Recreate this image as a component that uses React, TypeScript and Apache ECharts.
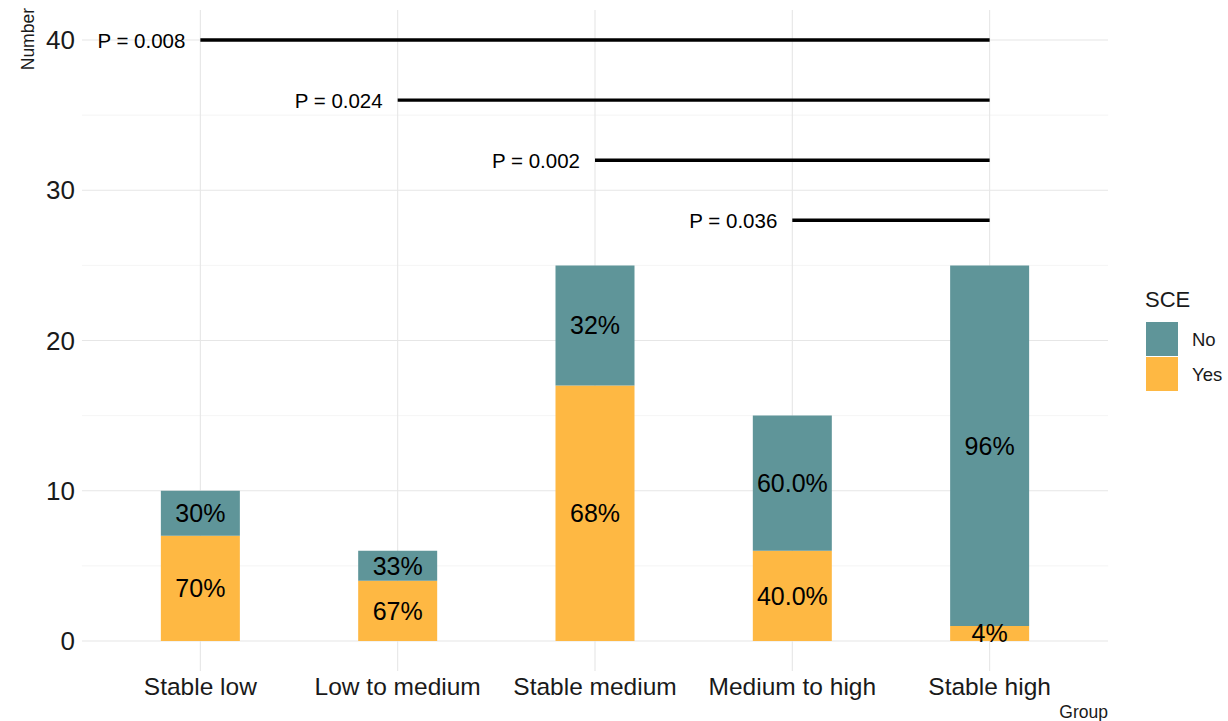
import React, { useEffect, useRef } from "react";
import * as echarts from "echarts";

const categories = ["Stable low", "Low to medium", "Stable medium", "Medium to high", "Stable high"];
const yesValues = [7, 4, 17, 6, 1];
const noValues = [3, 2, 8, 9, 24];
const yesLabels = ["70%", "67%", "68%", "40.0%", "4%"];
const noLabels = ["30%", "33%", "32%", "60.0%", "96%"];
const yTicks = [0, 10, 20, 30, 40];
const yMinorTicks = [5, 15, 25, 35];
const pStart = [0, 1, 2, 3];
const pEnd = 4;
const pHeights = [40, 36, 32, 28];
const pLabels = ["P = 0.008", "P = 0.024", "P = 0.002", "P = 0.036"];

const FONT = "Liberation Sans, Arial, sans-serif";
const YES_COLOR = "#FEB843";
const NO_COLOR = "#5F9599";
// panel expansion beyond the outer category bands, as a fraction of one band
const EXPAND = 0.1;

export default function App() {
  const ref = useRef<HTMLDivElement>(null);
  useEffect(() => {
    document.body.style.margin = "0";
    const chart = echarts.init(ref.current!, null, { renderer: "svg" });
    const hGridData = [
      ...yTicks.map((v) => [0, v, 1]),
      ...yMinorTicks.map((v) => [0, v, 0]),
    ];
    const vGridData = categories.map((_, i) => [i, 0]);
    const option: any = {
      animation: false,
      textStyle: { fontFamily: FONT },
      grid: { left: 101.7, right: 139.7, top: 10, bottom: 50 },
      title: {
        text: "SCE",
        left: 1145,
        top: 288,
        padding: 0,
        textStyle: { fontSize: 22, fontWeight: "normal", color: "#1a1a1a", fontFamily: FONT },
      },
      legend: {
        data: ["No", "Yes"],
        orient: "vertical",
        left: 1146,
        top: 322,
        padding: 0,
        icon: "rect",
        itemWidth: 32,
        itemHeight: 34,
        itemGap: 1,
        textStyle: { fontSize: 18.5, color: "#1a1a1a", fontFamily: FONT, padding: [0, 0, 0, 9] },
        selectedMode: false,
      },
      xAxis: {
        type: "category",
        data: categories,
        boundaryGap: true,
        axisLine: { show: false },
        axisTick: { show: false },
        splitLine: { show: false },
        axisLabel: {
          interval: 0,
          fontSize: 24.5,
          color: "#1a1a1a",
          margin: 3,
          fontFamily: FONT,
        },
      },
      yAxis: {
        type: "value",
        min: -2,
        max: 42,
        axisLine: { show: false },
        axisTick: { show: false },
        splitLine: { show: false },
        axisLabel: {
          customValues: yTicks,
          fontSize: 26,
          color: "#1a1a1a",
          margin: 26.7,
          fontFamily: FONT,
        },
      },
      graphic: [
        {
          type: "text",
          x: 28,
          y: 8,
          rotation: Math.PI / 2,
          style: {
            text: "Number",
            align: "right",
            verticalAlign: "middle",
            fontSize: 17.5,
            fill: "#1a1a1a",
            fontFamily: FONT,
          },
        },
        {
          type: "text",
          x: 1108,
          y: 712,
          style: {
            text: "Group",
            align: "right",
            verticalAlign: "middle",
            fontSize: 17.5,
            fill: "#1a1a1a",
            fontFamily: FONT,
          },
        },
      ],
      series: [
        {
          type: "custom",
          name: "hgrid",
          z: 0,
          silent: true,
          clip: false,
          encode: { x: 0, y: 1 },
          data: hGridData,
          renderItem: (params: any, api: any) => {
            const cs = params.coordSys;
            const band = api.size([1, 0])[0];
            const y = api.coord([0, api.value(1)])[1];
            const major = api.value(2) === 1;
            return {
              type: "line",
              shape: { x1: cs.x - EXPAND * band, y1: y, x2: cs.x + cs.width + EXPAND * band, y2: y },
              style: { stroke: major ? "#E6E6E6" : "#F1F1F1", lineWidth: major ? 1.1 : 0.7 },
            };
          },
        },
        {
          type: "custom",
          name: "vgrid",
          z: 0,
          silent: true,
          encode: { x: 0, y: 1 },
          data: vGridData,
          renderItem: (params: any, api: any) => {
            const cs = params.coordSys;
            const x = api.coord([api.value(0), 0])[0];
            return {
              type: "line",
              shape: { x1: x, y1: cs.y, x2: x, y2: cs.y + cs.height },
              style: { stroke: "#E6E6E6", lineWidth: 1.1 },
            };
          },
        },
        {
          type: "bar",
          name: "Yes",
          stack: "total",
          z: 3,
          barWidth: 79,
          itemStyle: { color: YES_COLOR },
          data: yesValues,
          label: {
            show: true,
            position: "inside",
            formatter: (p: any) => yesLabels[p.dataIndex],
            fontSize: 25,
            color: "#000",
            fontFamily: FONT,
          },
        },
        {
          type: "bar",
          name: "No",
          stack: "total",
          z: 3,
          barWidth: 79,
          itemStyle: { color: NO_COLOR },
          data: noValues,
          label: {
            show: true,
            position: "inside",
            formatter: (p: any) => noLabels[p.dataIndex],
            fontSize: 25,
            color: "#000",
            fontFamily: FONT,
          },
        },
        {
          type: "custom",
          name: "pvalues",
          z: 5,
          silent: true,
          clip: false,
          encode: { x: [0, 1], y: 2 },
          data: pStart.map((s, i) => [s, pEnd, pHeights[i]]),
          renderItem: (params: any, api: any) => {
            const s = api.coord([api.value(0), api.value(2)]);
            const e = api.coord([api.value(1), api.value(2)]);
            return {
              type: "group",
              children: [
                {
                  type: "line",
                  shape: { x1: s[0], y1: s[1], x2: e[0], y2: e[1] },
                  style: { stroke: "#000", lineWidth: 3.4 },
                },
                {
                  type: "text",
                  x: s[0] - 15,
                  y: s[1],
                  style: {
                    text: pLabels[params.dataIndex],
                    align: "right",
                    verticalAlign: "middle",
                    fontSize: 20.5,
                    fill: "#000",
                    fontFamily: FONT,
                  },
                },
              ],
            };
          },
        },
      ],
    };
    chart.setOption(option);
    return () => chart.dispose();
  }, []);
  return (
    <div
      ref={ref}
      style={{ position: "fixed", left: 0, top: 0, width: 1228, height: 721, background: "#fff" }}
    />
  );
}
